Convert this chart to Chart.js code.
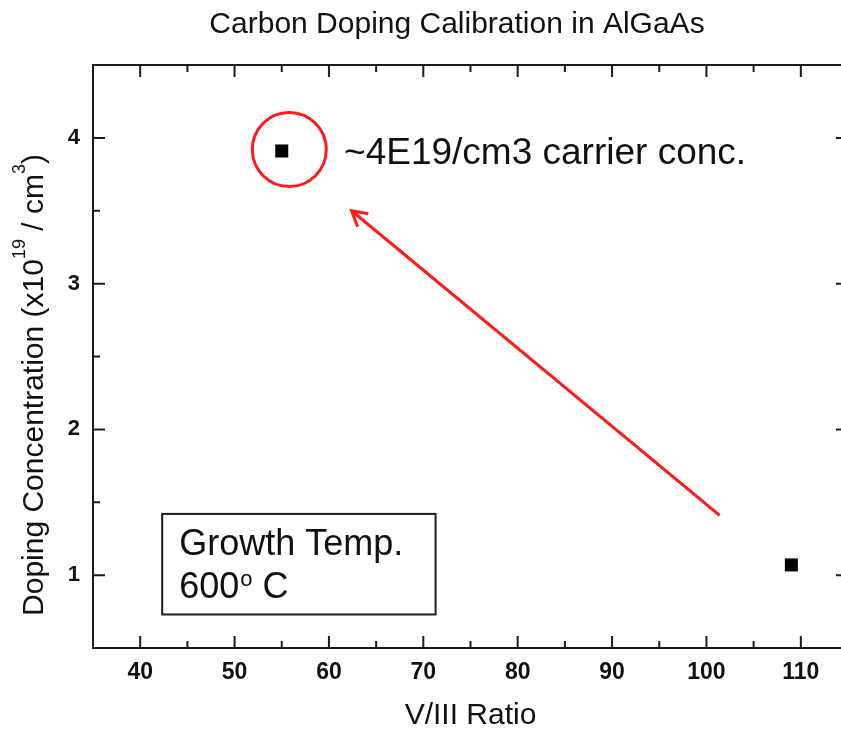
<!DOCTYPE html>
<html>
<head>
<meta charset="utf-8">
<script src="https://cdn.jsdelivr.net/npm/chart.js@4.4.1/dist/chart.umd.min.js"></script>
<style>
  html, body { margin: 0; padding: 0; background: #fff; overflow: hidden; }
  #wrap { width: 841px; height: 735px; overflow: hidden; }
</style>
</head>
<body>
<div id="wrap"><canvas id="chart" width="860" height="735"></canvas></div>
<script>
// data
const ratio = [55, 109];
const doping = [3.91, 1.07];
const xTicks = [40, 50, 60, 70, 80, 90, 100, 110];
const xMinor = [45, 55, 65, 75, 85, 95, 105];
const yTicks = [1, 2, 3, 4];
const yMinor = [1.5, 2.5, 3.5];

const FONT = "'Liberation Sans', Arial, Helvetica, sans-serif";
const INK = '#1c1c1c';
const RED = '#ff1a1a';

// frame, inward ticks, notes, arrow, y title with superscripts
const decor = {
  id: 'decor',
  afterDraw(chart) {
    const { ctx, chartArea: a, scales: { x, y } } = chart;
    const px = v => x.getPixelForValue(v);
    const py = v => y.getPixelForValue(v);
    ctx.save();

    // frame
    ctx.strokeStyle = INK;
    ctx.lineWidth = 2;
    ctx.strokeRect(a.left, a.top, a.right - a.left, a.bottom - a.top);

    // ticks on all four sides, pointing in
    ctx.beginPath();
    const xt = (vals, len) => vals.forEach(v => {
      const p = px(v);
      ctx.moveTo(p, a.bottom); ctx.lineTo(p, a.bottom - len);
      ctx.moveTo(p, a.top); ctx.lineTo(p, a.top + len);
    });
    const yt = (vals, len) => vals.forEach(v => {
      const p = py(v);
      ctx.moveTo(a.left, p); ctx.lineTo(a.left + len, p);
      ctx.moveTo(a.right, p); ctx.lineTo(a.right - len, p);
    });
    xt(xTicks, 12); xt(xMinor, 7);
    yt(yTicks, 12); yt(yMinor, 7);
    ctx.stroke();

    // chart title
    ctx.fillStyle = '#111';
    ctx.font = '30px ' + FONT;
    ctx.textAlign = 'center';
    ctx.textBaseline = 'alphabetic';
    ctx.fillText('Carbon Doping Calibration in AlGaAs', 457, 33);

    // y axis title with superscripts
    ctx.save();
    ctx.translate(43, 385);
    ctx.rotate(-Math.PI / 2);
    ctx.textAlign = 'left';
    const parts = [
      ['Doping Concentration (x10', 30, 0],
      ['19', 18, 18],
      [' / cm', 30, 0],
      ['3', 18, 18],
      [')', 30, 0]
    ];
    let total = 0;
    parts.forEach(p => { ctx.font = p[1] + 'px ' + FONT; total += ctx.measureText(p[0]).width; });
    let cx = -total / 2;
    parts.forEach(p => {
      ctx.font = p[1] + 'px ' + FONT;
      ctx.fillText(p[0], cx, -p[2]);
      cx += ctx.measureText(p[0]).width;
    });
    ctx.restore();

    // red circle round the high point
    ctx.strokeStyle = RED;
    ctx.lineWidth = 3;
    ctx.beginPath();
    ctx.arc(px(55.8), py(3.92), 37, 0, Math.PI * 2);
    ctx.stroke();

    // red arrow
    const x0 = px(101.4), y0 = py(1.41), x1 = px(62.4), y1 = py(3.5);
    const ang = Math.atan2(y1 - y0, x1 - x0);
    ctx.beginPath();
    ctx.moveTo(x0, y0); ctx.lineTo(x1, y1);
    ctx.moveTo(x1 - 17 * Math.cos(ang - 0.52), y1 - 17 * Math.sin(ang - 0.52));
    ctx.lineTo(x1, y1);
    ctx.lineTo(x1 - 17 * Math.cos(ang + 0.52), y1 - 17 * Math.sin(ang + 0.52));
    ctx.stroke();

    // annotation text
    ctx.fillStyle = '#111';
    ctx.textAlign = 'left';
    ctx.font = '37px ' + FONT;
    ctx.fillText('~4E19/cm3 carrier conc.', px(61.6), 164);

    // growth temperature box
    const bl = px(42.33), br = px(71.3), bt = py(1.42), bb = py(0.73);
    ctx.strokeStyle = INK;
    ctx.lineWidth = 2;
    ctx.strokeRect(bl, bt, br - bl, bb - bt);
    ctx.font = '36px ' + FONT;
    ctx.fillText('Growth Temp.', bl + 17, bt + 41);
    let tx = bl + 17;
    ctx.fillText('600', tx, bt + 84);
    tx += ctx.measureText('600').width + 1;
    ctx.font = '22px ' + FONT;
    ctx.fillText('o', tx, bt + 72);
    tx += ctx.measureText('o').width;
    ctx.font = '36px ' + FONT;
    ctx.fillText(' C', tx, bt + 84);

    ctx.restore();
  }
};

new Chart(document.getElementById('chart'), {
  type: 'scatter',
  data: {
    datasets: [{
      data: ratio.map((v, i) => ({ x: v, y: doping[i] })),
      pointStyle: 'rect',
      pointRadius: 9.2,
      pointHoverRadius: 9.2,
      backgroundColor: '#000',
      borderWidth: 0
    }]
  },
  options: {
    responsive: false,
    animation: false,
    devicePixelRatio: 1,
    layout: { padding: { left: 0, top: 65, right: 12, bottom: 0 } },
    plugins: { legend: { display: false }, tooltip: { enabled: false }, title: { display: false } },
    scales: {
      x: {
        type: 'linear',
        min: 35,
        max: 115,
        grid: { display: false, drawTicks: false },
        border: { display: false },
        afterBuildTicks: s => { s.ticks = xTicks.map(v => ({ value: v })); },
        afterFit: s => { s.height = 87; },
        ticks: { padding: 11, color: '#111', font: { family: FONT, size: 23, weight: 'bold' } },
        title: { display: true, text: 'V/III Ratio', color: '#111', padding: { top: 0, bottom: 1 }, font: { family: FONT, size: 30 } }
      },
      y: {
        type: 'linear',
        min: 0.5,
        max: 4.5,
        grid: { display: false, drawTicks: false },
        border: { display: false },
        afterBuildTicks: s => { s.ticks = yTicks.map(v => ({ value: v })); },
        afterFit: s => { s.width = 93; },
        ticks: { padding: 13, color: '#111', font: { family: FONT, size: 22, weight: 'bold' } }
      }
    }
  },
  plugins: [decor]
});
</script>
</body>
</html>
